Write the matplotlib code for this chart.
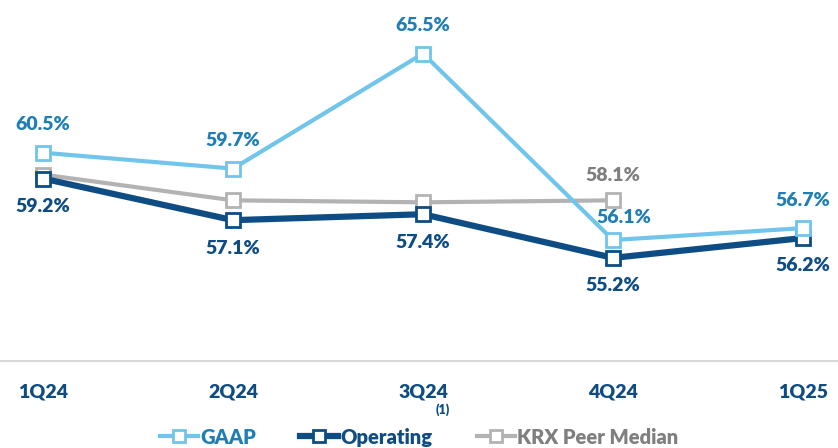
import numpy as np
import matplotlib.pyplot as plt

plt.rcParams['font.family'] = ['Lato', 'DejaVu Sans']

quarters = ['1Q24', '2Q24', '3Q24', '4Q24', '1Q25']
gaap = [60.5, 59.7, 65.5, 56.1, 56.7]
operating = [59.2, 57.1, 57.4, 55.2, 56.2]
krx = [59.4, 58.1, 58.0, 58.1, np.nan]

c_gaap = '#71C5EA'
c_gaap_txt = '#1F7FB5'
c_op = '#0E4C84'
c_krx = '#B3B3B3'
c_krx_txt = '#7F7F7F'
fw = 'heavy'

fig = plt.figure(figsize=(8.38, 4.48), dpi=100)
ax = fig.add_axes([0, 1 - 361 / 448, 1, 361 / 448])
x = np.arange(len(quarters))

mk = dict(marker='s', markersize=10.5, markerfacecolor='white', markeredgewidth=2)
l_krx, = ax.plot(x, krx, color=c_krx, linewidth=3, markeredgecolor=c_krx, **mk, zorder=2)
l_op, = ax.plot(x, operating, color=c_op, linewidth=4.5, markeredgecolor=c_op, **mk, zorder=3)
l_gaap, = ax.plot(x, gaap, color=c_gaap, linewidth=3, markeredgecolor=c_gaap, **mk, zorder=4)

# data labels
gaap_off = [(0, 14), (0, 14), (0, 14), (8, 10), (0, 14)]
for i, v in enumerate(gaap):
    ax.annotate(f'{v}%', (x[i], v), xytext=gaap_off[i], textcoords='offset points',
                ha='center', va='bottom', fontsize=14, fontweight=fw, color=c_gaap_txt)
for i, v in enumerate(operating):
    ax.annotate(f'{v}%', (x[i], v), xytext=(0, -14), textcoords='offset points',
                ha='center', va='top', fontsize=14, fontweight=fw, color=c_op)
ax.annotate(f'{krx[3]}%', (x[3], krx[3]), xytext=(0, 12), textcoords='offset points',
            ha='center', va='bottom', fontsize=14, fontweight=fw, color=c_krx_txt)

ax.set_xlim(-43 / 190, 4 + 35 / 190)
ax.set_ylim(50, 68.2)
ax.set_xticks(x)
ax.set_xticklabels(quarters, fontsize=14, fontweight=fw, color=c_op)
ax.tick_params(axis='x', length=0, pad=16)
ax.set_yticks([])
for s in ['top', 'left', 'right']:
    ax.spines[s].set_visible(False)
ax.spines['bottom'].set_color('#D9D9D9')
ax.spines['bottom'].set_linewidth(1.5)

leg = fig.legend([l_gaap, l_op, l_krx], ['GAAP', 'Operating', 'KRX Peer Median'],
                 loc='center', bbox_to_anchor=(0.5, 1 - 437 / 448), ncol=3, frameon=False,
                 prop={'size': 14.5, 'weight': fw}, handlelength=1.9, handletextpad=0.1,
                 columnspacing=2.2, markerscale=0.8)
for t, c in zip(leg.get_texts(), [c_gaap_txt, c_op, c_krx_txt]):
    t.set_color(c)
fig.canvas.draw()
bb = leg.get_texts()[1].get_window_extent()
fig.text(bb.x1 / 838 + 0.004, 1 - 410 / 448, '(1)', fontsize=9, fontweight=fw, color=c_op,
         ha='left', va='center')

fig.savefig('out.png', dpi=100)
